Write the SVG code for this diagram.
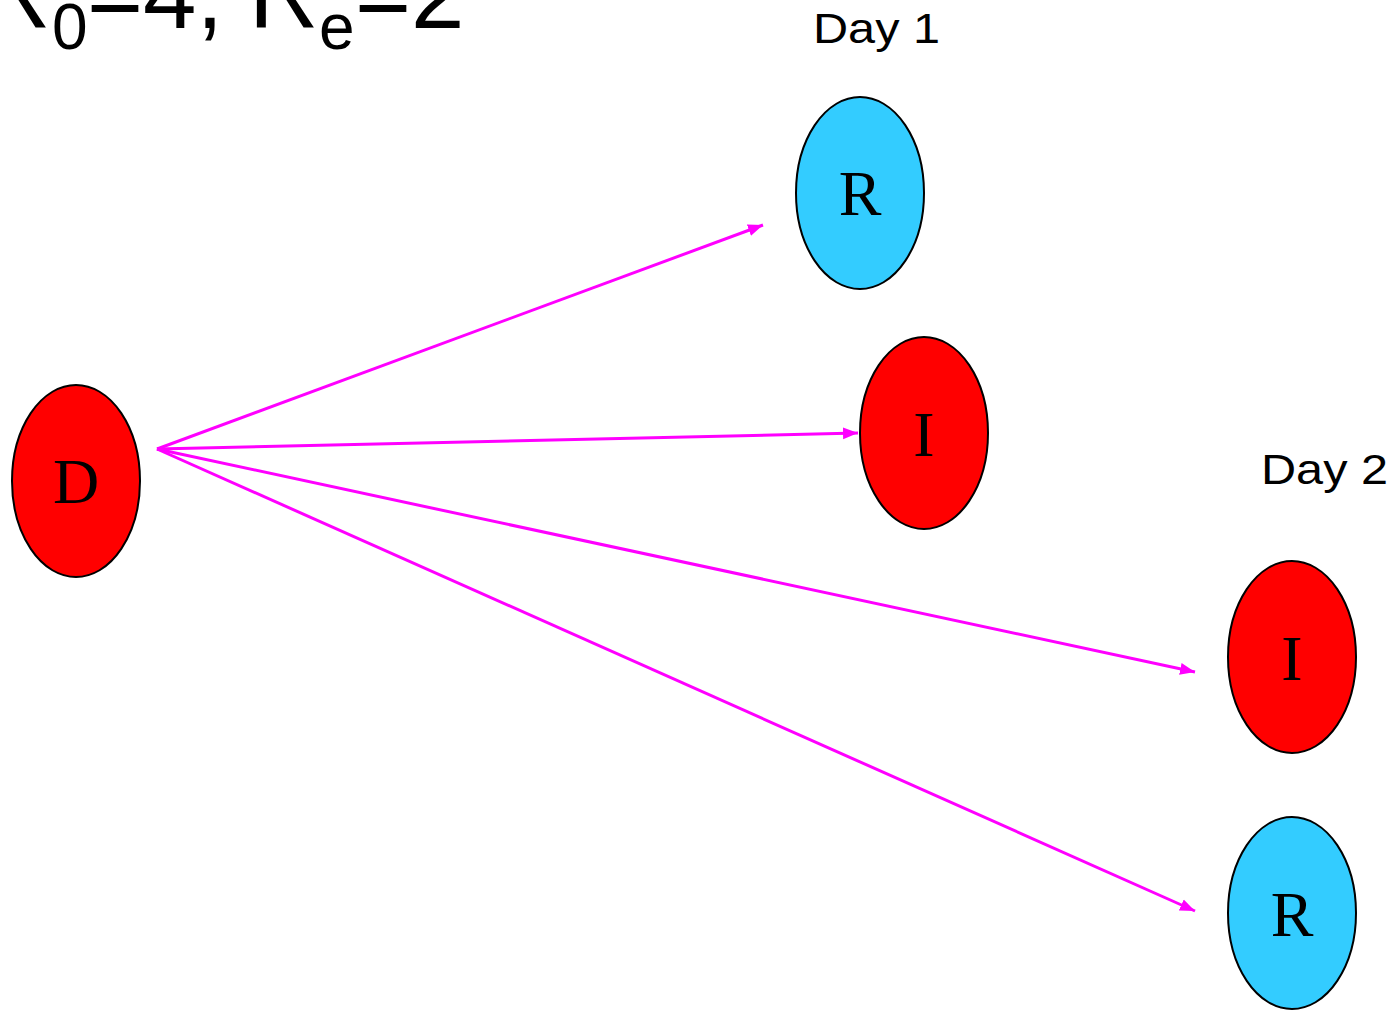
<svg xmlns="http://www.w3.org/2000/svg" width="1393" height="1011" viewBox="0 0 1393 1011">
<style>
.node{stroke:#000;stroke-width:2}
.red{fill:#FF0000}
.blue{fill:#33CCFF}
.lbl{font-family:"Liberation Serif","Times New Roman",serif;font-size:64px;fill:#000;text-anchor:middle}
.day{font-family:"Liberation Sans",Arial,sans-serif;font-size:42px;fill:#000}
.title{font-family:"Liberation Sans",Arial,sans-serif;fill:#000}
.conn{stroke:#FF00FF;stroke-width:3;fill:none;marker-end:url(#ah)}
</style>
<defs>
<marker id="ah" markerUnits="userSpaceOnUse" markerWidth="18" markerHeight="14" refX="15" refY="7" orient="auto">
<path d="M0,1 L15,7 L0,13 Z" fill="#FF00FF"/>
</marker>
</defs>
<rect width="1393" height="1011" fill="#fff"/>
<g id="title">
<text class="title" y="28" font-size="96"><tspan x="-19">R</tspan><tspan x="52" y="49" font-size="64">0</tspan><tspan x="87" y="28">=4, </tspan><tspan x="249">R</tspan><tspan x="319" y="49" font-size="64">e</tspan><tspan x="355" y="28">=2</tspan></text>
</g>
<g id="day1"><text class="day" x="813" y="43" textLength="127" lengthAdjust="spacingAndGlyphs">Day 1</text></g>
<g id="day2"><text class="day" x="1261" y="484" textLength="127" lengthAdjust="spacingAndGlyphs">Day 2</text></g>
<g id="connectors">
<line class="conn" x1="157" y1="449" x2="763" y2="225"/>
<line class="conn" x1="157" y1="449" x2="858" y2="433"/>
<line class="conn" x1="157" y1="449" x2="1195" y2="672"/>
<line class="conn" x1="157" y1="449" x2="1195" y2="911"/>
</g>
<g id="node-D"><ellipse class="node red" cx="76" cy="481" rx="64" ry="96"/><text class="lbl" x="76" y="503">D</text></g>
<g id="node-R1"><ellipse class="node blue" cx="860" cy="193" rx="64" ry="96"/><text class="lbl" x="860" y="215">R</text></g>
<g id="node-I1"><ellipse class="node red" cx="924" cy="433" rx="64" ry="96"/><text class="lbl" x="924" y="456">I</text></g>
<g id="node-I2"><ellipse class="node red" cx="1292" cy="657" rx="64" ry="96"/><text class="lbl" x="1292" y="680">I</text></g>
<g id="node-R2"><ellipse class="node blue" cx="1292" cy="913" rx="64" ry="96"/><text class="lbl" x="1292" y="936">R</text></g>
</svg>
